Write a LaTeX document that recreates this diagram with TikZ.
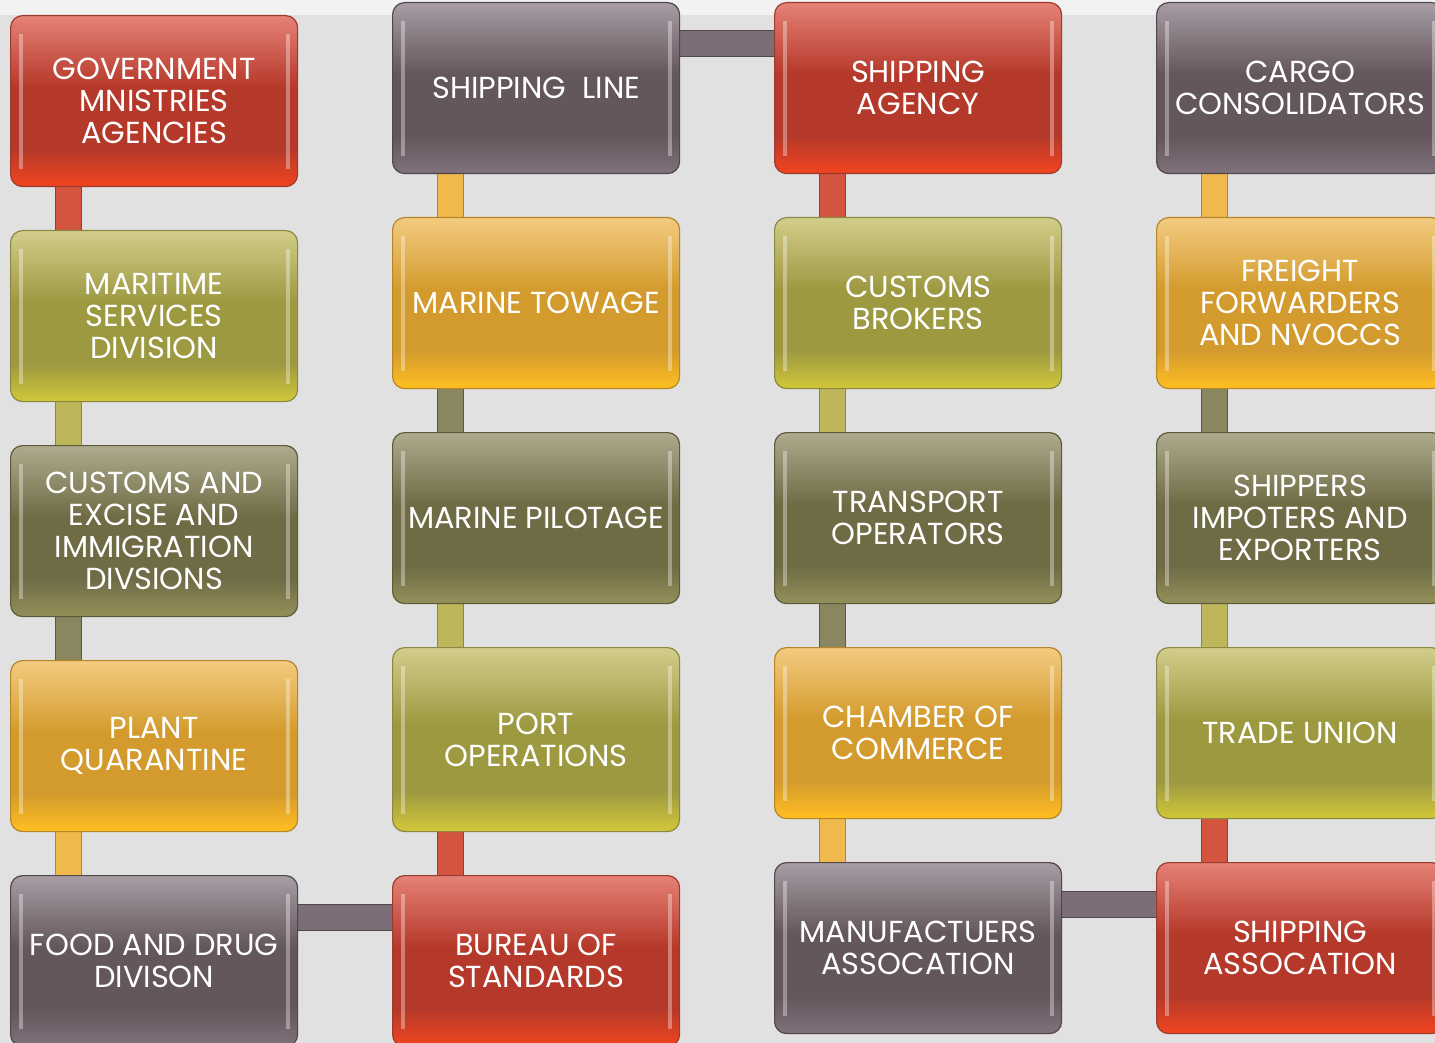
\documentclass[tikz,border=0pt]{standalone}
\usepackage{fontspec}
\setmainfont{Poppins}
\usepackage{xcolor}
\usepackage{tikz}
\usetikzlibrary{positioning,calc}
\pgfdeclarelayer{paper}
\pgfdeclarelayer{links}
\pgfsetlayers{paper,links,main}
% glossy fill: bright rim at the bottom, flat middle, light top
\pgfdeclareverticalshading[gltop,glmid,glbot]{gloss}{100bp}{color(0bp)=(glbot); color(26bp)=(glbot); color(36bp)=(glmid); color(54bp)=(glmid); color(75bp)=(gltop); color(100bp)=(gltop)}
\definecolor{bricktop}{HTML}{E58176}
\definecolor{brickmid}{HTML}{B5392A}
\definecolor{brickbot}{HTML}{EC4420}
\definecolor{brickedge}{HTML}{9C3A2E}
\definecolor{brickbar}{HTML}{D4553F}
\definecolor{limetop}{HTML}{D2CD8A}
\definecolor{limemid}{HTML}{9D9941}
\definecolor{limebot}{HTML}{CDC43A}
\definecolor{limeedge}{HTML}{8C8742}
\definecolor{limebar}{HTML}{BDB65A}
\definecolor{mosstop}{HTML}{AEAB8E}
\definecolor{mossmid}{HTML}{6F6B45}
\definecolor{mossbot}{HTML}{918D58}
\definecolor{mossedge}{HTML}{5C5A3A}
\definecolor{mossbar}{HTML}{8A8660}
\definecolor{ambertop}{HTML}{F3CB80}
\definecolor{ambermid}{HTML}{D39B2D}
\definecolor{amberbot}{HTML}{FCBC22}
\definecolor{amberedge}{HTML}{B58527}
\definecolor{amberbar}{HTML}{EFB94D}
\definecolor{plumtop}{HTML}{A89DA4}
\definecolor{plummid}{HTML}{63565C}
\definecolor{plumbot}{HTML}{7E7078}
\definecolor{plumedge}{HTML}{50464B}
\definecolor{plumbar}{HTML}{7B6E76}
\definecolor{paperlight}{HTML}{F2F2F2}
\definecolor{papergray}{HTML}{E1E1E1}
\newcommand{\unitfont}{\fontsize{15.2pt}{16pt}\selectfont}
\tikzset{
  unit/.style={rectangle, rounded corners=6pt, minimum width=143.5pt, minimum height=85.5pt, inner sep=1pt,
    align=center, text=white, font=\unitfont, draw=#1edge, line width=.6pt,
    /utils/exec={\colorlet{gltop}{#1top}\colorlet{glmid}{#1mid}\colorlet{glbot}{#1bot}}, shading=gloss,
    path picture={
      \fill[white, opacity=.35, sharp corners] ([xshift=4pt,yshift=9pt]path picture bounding box.south west) rectangle ([xshift=6pt,yshift=-9pt]path picture bounding box.north west);
      \fill[white, opacity=.35, sharp corners] ([xshift=-6pt,yshift=9pt]path picture bounding box.south east) rectangle ([xshift=-4pt,yshift=-9pt]path picture bounding box.north east);
    }},
  link/.style={draw=#1edge, line width=.5pt, double=#1bar, double distance=12.5pt},
}

\begin{document}
\begin{tikzpicture}[node distance=21.4pt]
  \begin{pgfonlayer}{paper}
    \fill[paperlight] (0,0) rectangle (717.5pt,-521.5pt);
    \fill[papergray] (0,-7.5pt) rectangle (717.5pt,-521.5pt);
  \end{pgfonlayer}
  \useasboundingbox (0,0) rectangle (717.5pt,-521.5pt);
  \clip (0,0) rectangle (717.5pt,-521.5pt);
  % first column, top to bottom
  \node[unit=brick, anchor=north west] (gov) at (5pt,-7.5pt) {GOVERNMENT\\MNISTRIES\\AGENCIES};
  \node[unit=lime, below=of gov] (maritime) {MARITIME\\SERVICES\\DIVISION};
  \node[unit=moss, below=of maritime] (customs) {CUSTOMS AND\\EXCISE AND\\IMMIGRATION\\DIVSIONS};
  \node[unit=amber, below=of customs] (plant) {PLANT\\QUARANTINE};
  \node[unit=plum, below=of plant] (food) {FOOD AND DRUG\\DIVISON};
  % second column
  \node[unit=plum, anchor=north west] (line) at (196pt,-1pt) {SHIPPING~~LINE};
  \node[unit=amber, below=of line] (towage) {MARINE TOWAGE};
  \node[unit=moss, below=of towage] (pilotage) {MARINE PILOTAGE};
  \node[unit=lime, below=of pilotage, minimum height=92pt] (port) {PORT\\OPERATIONS};
  \node[unit=brick, below=of port] (bureau) {BUREAU OF\\STANDARDS};
  % third column
  \node[unit=brick, anchor=north west] (agency) at (387pt,-1pt) {SHIPPING\\AGENCY};
  \node[unit=lime, below=of agency] (brokers) {CUSTOMS\\BROKERS};
  \node[unit=moss, below=of brokers] (transport) {TRANSPORT\\OPERATORS};
  \node[unit=amber, below=of transport] (chamber) {CHAMBER OF\\COMMERCE};
  \node[unit=plum, below=of chamber] (makers) {MANUFACTUERS\\ASSOCATION};
  % fourth column
  \node[unit=plum, anchor=north west] (cargo) at (578pt,-1pt) {CARGO\\CONSOLIDATORS};
  \node[unit=amber, below=of cargo] (freight) {FREIGHT\\FORWARDERS\\AND NVOCCS};
  \node[unit=moss, below=of freight] (shippers) {SHIPPERS\\IMPOTERS AND\\EXPORTERS};
  \node[unit=lime, below=of shippers] (union) {TRADE UNION};
  \node[unit=brick, below=of union] (shipassoc) {SHIPPING\\ASSOCATION};
  % bars between the boxes
  \begin{pgfonlayer}{links}
    \draw[link=brick] ([xshift=29.25pt]gov.south west) -- ([xshift=29.25pt]maritime.north west);
    \draw[link=lime] ([xshift=29.25pt]maritime.south west) -- ([xshift=29.25pt]customs.north west);
    \draw[link=moss] ([xshift=29.25pt]customs.south west) -- ([xshift=29.25pt]plant.north west);
    \draw[link=amber] ([xshift=29.25pt]plant.south west) -- ([xshift=29.25pt]food.north west);
    \draw[link=plum] ([yshift=-21pt]food.north east) -- ([yshift=-21pt]bureau.north west);
    \draw[link=brick] ([xshift=29.25pt]bureau.north west) -- ([xshift=29.25pt]port.south west);
    \draw[link=lime] ([xshift=29.25pt]port.north west) -- ([xshift=29.25pt]pilotage.south west);
    \draw[link=moss] ([xshift=29.25pt]pilotage.north west) -- ([xshift=29.25pt]towage.south west);
    \draw[link=amber] ([xshift=29.25pt]towage.north west) -- ([xshift=29.25pt]line.south west);
    \draw[link=plum] ([yshift=-21pt]line.north east) -- ([yshift=-21pt]agency.north west);
    \draw[link=brick] ([xshift=29.25pt]agency.south west) -- ([xshift=29.25pt]brokers.north west);
    \draw[link=lime] ([xshift=29.25pt]brokers.south west) -- ([xshift=29.25pt]transport.north west);
    \draw[link=moss] ([xshift=29.25pt]transport.south west) -- ([xshift=29.25pt]chamber.north west);
    \draw[link=amber] ([xshift=29.25pt]chamber.south west) -- ([xshift=29.25pt]makers.north west);
    \draw[link=plum] ([yshift=-21pt]makers.north east) -- ([yshift=-21pt]shipassoc.north west);
    \draw[link=brick] ([xshift=29.25pt]shipassoc.north west) -- ([xshift=29.25pt]union.south west);
    \draw[link=lime] ([xshift=29.25pt]union.north west) -- ([xshift=29.25pt]shippers.south west);
    \draw[link=moss] ([xshift=29.25pt]shippers.north west) -- ([xshift=29.25pt]freight.south west);
    \draw[link=amber] ([xshift=29.25pt]freight.north west) -- ([xshift=29.25pt]cargo.south west);
  \end{pgfonlayer}
\end{tikzpicture}
\end{document}
